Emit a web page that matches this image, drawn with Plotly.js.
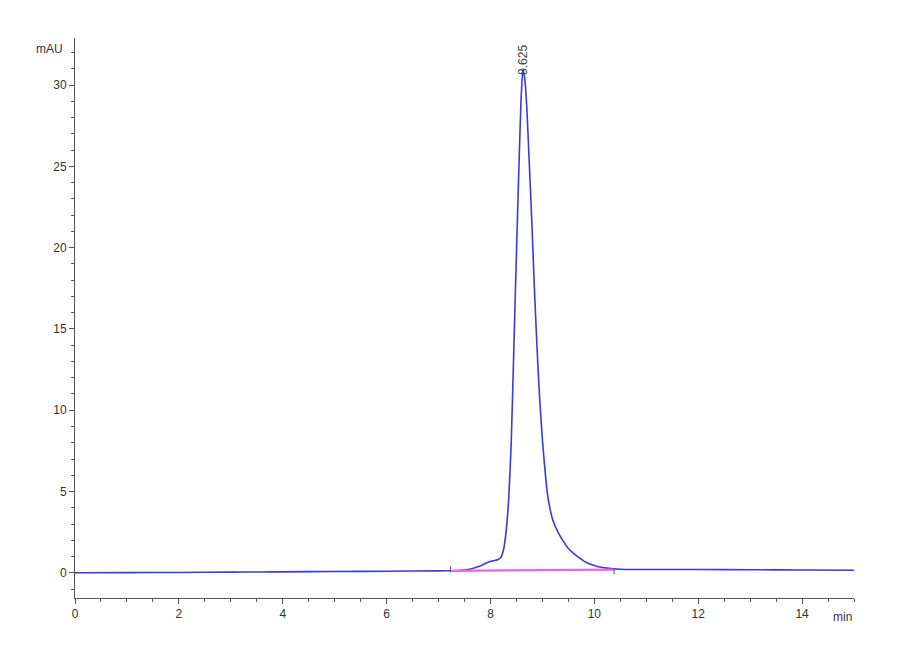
<!DOCTYPE html>
<html>
<head>
<meta charset="utf-8">
<script src="https://cdn.plot.ly/plotly-3.0.1.min.js"></script>
<style>
  html, body { margin: 0; padding: 0; background: #fff; }
  #chart { width: 900px; height: 660px; }
</style>
</head>
<body>
<div id="chart"></div>
<script>
// chromatogram signal (min, mAU)
const timeMin = [0, 1, 2, 3, 3.6, 4, 5, 6, 7, 7.23, 7.4, 7.54, 7.8, 7.93, 8.05, 8.15, 8.2, 8.25, 8.3, 8.35, 8.4,
  8.45, 8.5, 8.55, 8.59, 8.625, 8.66, 8.7, 8.75, 8.8, 8.85, 8.9, 8.95, 9.0, 9.05, 9.1, 9.15, 9.2, 9.3, 9.4, 9.5,
  9.6, 9.7, 9.8, 9.9, 10.0, 10.1, 10.24, 10.5, 11, 12, 13, 14, 15];
const signal = [0, 0.01, 0.02, 0.04, 0.05, 0.06, 0.08, 0.1, 0.12, 0.13, 0.14, 0.18, 0.42, 0.62, 0.74, 0.82, 0.95,
  1.4, 2.5, 4.5, 8.0, 13.8, 19.6, 25.2, 29.2, 31.0, 30.4, 28.6, 25.0, 21.3, 17.2, 13.6, 10.6, 8.2, 6.3, 4.8, 3.9,
  3.25, 2.5, 1.95, 1.5, 1.2, 0.95, 0.72, 0.56, 0.45, 0.36, 0.29, 0.22, 0.2, 0.2, 0.19, 0.17, 0.16];

// integration baseline and its start/end marks
const baseX = [7.23, 10.38];
const baseY = [0.12, 0.2];
const markX = [7.23, 7.23, null, 10.38, 10.38];
const markY = [0.02, 0.4, null, -0.1, 0.25];

// peak label
const peakTime = 8.625;
const peakLabel = '8.625';

const xTicks = [0, 2, 4, 6, 8, 10, 12, 14];
const yTicks = [0, 5, 10, 15, 20, 25, 30];

const font = 'Liberation Sans, Arial, sans-serif';

const traces = [
  {
    x: timeMin, y: signal, type: 'scatter', mode: 'lines',
    line: {color: '#3a3adc', width: 1.6, shape: 'spline', smoothing: 0.5},
    hoverinfo: 'skip'
  },
  {
    x: baseX, y: baseY, type: 'scatter', mode: 'lines',
    line: {color: '#f060f0', width: 2.2},
    hoverinfo: 'skip'
  },
  {
    x: markX, y: markY, type: 'scatter', mode: 'lines',
    line: {color: '#555555', width: 1},
    hoverinfo: 'skip'
  }
];

const axisCommon = {
  showgrid: false,
  zeroline: false,
  showline: true,
  linecolor: '#555555',
  linewidth: 1,
  ticks: 'outside',
  ticklen: 5,
  tickcolor: '#555555',
  tickfont: {family: font, size: 12, color: '#333333'},
  fixedrange: true
};

const layout = {
  width: 900,
  height: 660,
  margin: {l: 75, r: 46, t: 38, b: 62},
  paper_bgcolor: '#ffffff',
  plot_bgcolor: '#ffffff',
  showlegend: false,
  xaxis: Object.assign({}, axisCommon, {
    range: [0, 15],
    tickvals: xTicks,
    ticktext: xTicks.map(String),
    minor: {dtick: 0.5, tick0: 0, ticks: 'outside', ticklen: 3, tickcolor: '#555555'}
  }),
  yaxis: Object.assign({}, axisCommon, {
    range: [-1.55, 32.9],
    tickvals: yTicks,
    ticktext: yTicks.map(String),
    minor: {dtick: 1, tick0: 0, ticks: 'outside', ticklen: 3, tickcolor: '#555555'}
  }),
  annotations: [
    {
      x: peakTime, y: 30.5, xref: 'x', yref: 'y',
      text: peakLabel, textangle: -90, showarrow: false,
      xanchor: 'center', yanchor: 'bottom',
      font: {family: font, size: 12, color: '#444444'}
    },
    {
      x: 0, y: 32.2, xref: 'paper', yref: 'y',
      text: 'mAU', showarrow: false, xanchor: 'right', yanchor: 'middle', xshift: -10,
      font: {family: font, size: 12, color: '#333333'}
    },
    {
      x: 15, y: 0, xref: 'x', yref: 'paper',
      text: 'min', showarrow: false, xanchor: 'right', yanchor: 'top', yshift: -10,
      font: {family: font, size: 12, color: '#333333'}
    }
  ]
};

Plotly.newPlot('chart', traces, layout, {displayModeBar: false, staticPlot: true});
</script>
</body>
</html>
